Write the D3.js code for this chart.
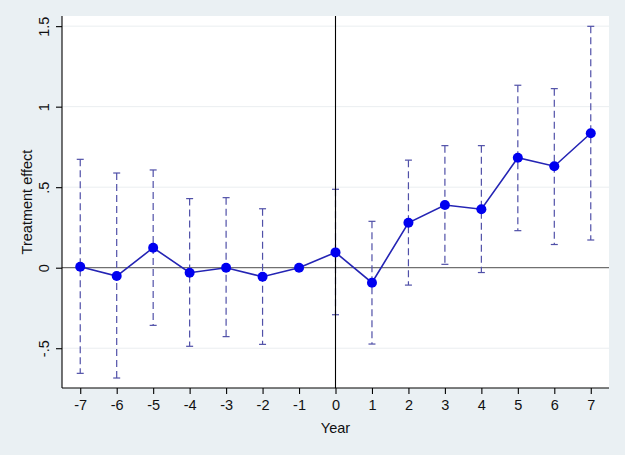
<!DOCTYPE html>
<html>
<head>
<meta charset="utf-8">
<script src="https://cdn.jsdelivr.net/npm/d3@7"></script>
<style>
  html, body { margin: 0; padding: 0; background: #eaf0f3; }
  svg { display: block; }
  text { font-family: "Liberation Sans", Arial, Helvetica, sans-serif; fill: #111; }
</style>
</head>
<body>
<svg id="chart" width="625" height="455"></svg>
<script>
// ---- data ----
const years    = [-7, -6, -5, -4, -3, -2, -1, 0, 1, 2, 3, 4, 5, 6, 7];
const estimate = [0.006, -0.052, 0.124, -0.031, 0.0, -0.056, 0.0, 0.095, -0.093, 0.279, 0.389, 0.363, 0.683, 0.630, 0.835];
const ciLower  = [-0.656, -0.685, -0.358, -0.488, -0.428, -0.476, null, -0.292, -0.474, -0.108, 0.021, -0.030, 0.230, 0.144, 0.172];
const ciUpper  = [0.673, 0.588, 0.607, 0.429, 0.435, 0.366, null, 0.487, 0.288, 0.668, 0.758, 0.758, 1.133, 1.112, 1.499];
const yTicks   = [-0.5, 0, 0.5, 1, 1.5];
const yTickLabels = ["-.5", "0", ".5", "1", "1.5"];
const xTicks   = years;
const xTickLabels = ["-7", "-6", "-5", "-4", "-3", "-2", "-1", "0", "1", "2", "3", "4", "5", "6", "7"];
const xTitle = "Year";
const yTitle = "Treatment effect";

const rows = years.map((yr, i) => ({ yr, est: estimate[i], lo: ciLower[i], hi: ciUpper[i] }));

// ---- layout ----
const svg = d3.select("#chart");
const L = 62, R = 609, T = 16, B = 388;

const x = d3.scaleLinear().domain([-7.5, 7.5]).range([L, R]);
const y = d3.scaleLinear().domain([-0.747, 1.563]).range([B, T]);

// background
svg.append("rect").attr("x", 0).attr("y", 0).attr("width", 625).attr("height", 455).attr("fill", "#eaf0f3");
svg.append("rect").attr("x", L).attr("y", T).attr("width", R - L).attr("height", B - T).attr("fill", "#ffffff");

// gridlines
svg.append("g").selectAll("line")
  .data(yTicks.filter(v => v !== 0))
  .join("line")
  .attr("x1", L).attr("x2", R)
  .attr("y1", d => y(d)).attr("y2", d => y(d))
  .attr("stroke", "#eaeef0").attr("stroke-width", 1);

// reference line at 0
svg.append("line").attr("x1", L).attr("x2", R).attr("y1", y(0)).attr("y2", y(0))
  .attr("stroke", "#707070").attr("stroke-width", 1.3);

// error bars
const eb = svg.append("g").attr("stroke", "#5050a8").attr("stroke-width", 1.2).attr("fill", "none");
const ciRows = rows.filter(d => d.lo !== null);
eb.selectAll("line.v").data(ciRows).join("line").attr("class", "v")
  .attr("x1", d => x(d.yr)).attr("x2", d => x(d.yr))
  .attr("y1", d => y(d.hi)).attr("y2", d => y(d.lo))
  .attr("stroke-dasharray", "7,4");
eb.selectAll("line.ch").data(ciRows).join("line").attr("class", "ch")
  .attr("x1", d => x(d.yr) - 3.5).attr("x2", d => x(d.yr) + 3.5)
  .attr("y1", d => y(d.hi)).attr("y2", d => y(d.hi));
eb.selectAll("line.cl").data(ciRows).join("line").attr("class", "cl")
  .attr("x1", d => x(d.yr) - 3.5).attr("x2", d => x(d.yr) + 3.5)
  .attr("y1", d => y(d.lo)).attr("y2", d => y(d.lo));

// vertical reference line at 0
svg.append("line").attr("x1", x(0)).attr("x2", x(0)).attr("y1", T).attr("y2", B)
  .attr("stroke", "#000").attr("stroke-width", 1.1);

// connecting line
svg.append("path").datum(rows)
  .attr("d", d3.line().x(d => x(d.yr)).y(d => y(d.est)))
  .attr("fill", "none").attr("stroke", "#2424b4").attr("stroke-width", 1.6);

// markers
svg.append("g").selectAll("circle").data(rows).join("circle")
  .attr("cx", d => x(d.yr)).attr("cy", d => y(d.est)).attr("r", 5)
  .attr("fill", "#0000f0");

// axes
const yAxis = d3.axisLeft(y).tickValues(yTicks).tickFormat((d, i) => yTickLabels[i]).tickSize(6).tickPadding(5);
const gy = svg.append("g").attr("transform", `translate(${L},0)`).call(yAxis);
gy.select(".domain").attr("d", `M0,${T}V${B}`).attr("stroke", "#000").attr("stroke-width", 1.1);
gy.selectAll(".tick line").attr("stroke", "#000").attr("stroke-width", 1.1);
gy.selectAll(".tick text")
  .attr("font-size", 14.5)
  .attr("font-family", "'Liberation Sans', Arial, sans-serif")
  .attr("fill", "#111")
  .attr("text-anchor", "middle")
  .attr("dy", null)
  .attr("x", null)
  .attr("y", 0)
  .attr("transform", "translate(-13,0) rotate(-90)");

const xAxis = d3.axisBottom(x).tickValues(xTicks).tickFormat((d, i) => xTickLabels[i]).tickSize(6).tickPadding(5);
const gx = svg.append("g").attr("transform", `translate(0,${B})`).call(xAxis);
gx.select(".domain").attr("d", `M${L},0H${R}`).attr("stroke", "#000").attr("stroke-width", 1.1);
gx.selectAll(".tick line").attr("stroke", "#000").attr("stroke-width", 1.1);
gx.selectAll(".tick text")
  .attr("font-size", 14.5)
  .attr("font-family", "'Liberation Sans', Arial, sans-serif")
  .attr("fill", "#111")
  .attr("dy", null)
  .attr("y", 22);

// titles
svg.append("text").attr("x", (L + R) / 2).attr("y", 433)
  .attr("text-anchor", "middle").attr("font-size", 14.5).text(xTitle);
svg.append("text")
  .attr("transform", `translate(32,${(T + B) / 2}) rotate(-90)`)
  .attr("text-anchor", "middle").attr("font-size", 14.5).text(yTitle);
</script>
</body>
</html>
